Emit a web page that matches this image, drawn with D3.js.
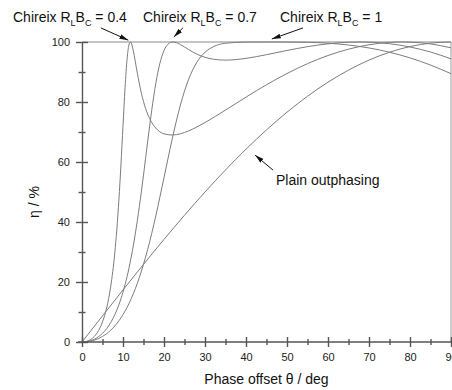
<!DOCTYPE html>
<html>
<head>
<meta charset="utf-8">
<script src="https://cdn.jsdelivr.net/npm/d3@7.9.0/dist/d3.min.js"></script>
<style>
  body { margin: 0; background: #fff; }
  svg { display: block; font-family: Arial, 'Liberation Sans', sans-serif; }
</style>
</head>
<body>
<div id="chart"></div>
<script>
// efficiency curves (phase offset in deg, efficiency in %)
const plainTheta = [0, 5, 10, 15, 20, 25, 30, 35, 40, 45, 50, 55, 60, 65, 70, 75, 80, 85, 90];
const plainEta = [0, 8.72, 17.36, 25.88, 34.2, 42.26, 50, 57.36, 64.28, 70.71, 76.6, 81.92, 86.6, 90.63, 93.97, 96.59, 98.48, 99.62, 100];

const chx04Theta = [0, 1, 2, 3, 4, 5, 6, 7, 8, 8.5, 9, 9.5, 10, 10.5, 11, 11.5, 11.8, 12, 12.5, 13, 13.5, 14, 15, 16, 17, 18, 20, 22, 24, 26, 28, 30, 35, 40, 45, 50, 55, 60, 65, 70, 75, 78, 80, 85, 90];
const chx04Eta = [0, 0.17, 0.74, 1.85, 3.73, 6.7, 11.3, 18.47, 29.74, 37.62, 47.37, 59.07, 72.09, 84.73, 94.42, 99.33, 100, 99.7, 97.21, 93.5, 89.61, 85.99, 80.14, 76.01, 73.19, 71.31, 69.39, 69.0, 69.41, 70.37, 71.66, 73.15, 77.32, 81.63, 85.75, 89.5, 92.78, 95.5, 97.61, 99.07, 99.86, 100, 99.96, 99.36, 98.06];

const chx07Theta = [0, 1, 2, 3, 4, 5, 6, 7, 8, 9, 10, 11, 12, 13, 14, 15, 16, 17, 18, 19, 20, 21, 22, 22.2, 23, 24, 26, 28, 30, 32, 35, 40, 45, 50, 55, 60, 65, 67.8, 70, 75, 80, 85, 90];
const chx07Eta = [0, 0.09, 0.39, 0.92, 1.74, 2.89, 4.44, 6.47, 9.09, 12.42, 16.61, 21.84, 28.28, 36.08, 45.27, 55.65, 66.63, 77.19, 86.22, 92.92, 97.14, 99.29, 99.98, 100, 99.8, 99.16, 97.48, 95.97, 94.9, 94.27, 93.96, 94.54, 95.78, 97.18, 98.44, 99.39, 99.92, 100, 99.95, 99.43, 98.34, 96.66, 94.39];

const chx10Theta = [0, 1, 2, 3, 4, 5, 6, 7, 8, 9, 10, 12, 14, 16, 18, 20, 22, 24, 26, 28, 30, 32, 35, 40, 45, 50, 55, 60, 65, 70, 75, 80, 85, 90];
const chx10Eta = [0, 0.06, 0.26, 0.61, 1.13, 1.84, 2.76, 3.92, 5.34, 7.07, 9.13, 14.42, 21.55, 30.76, 42.04, 54.79, 67.67, 78.99, 87.56, 93.23, 96.59, 98.41, 99.58, 99.98, 100, 99.99, 99.9, 99.6, 99.0, 98.02, 96.59, 94.7, 92.32, 89.44];

const xMajor = [0, 10, 20, 30, 40, 50, 60, 70, 80, 90];
const xMinor = [5, 15, 25, 35, 45, 55, 65, 75, 85];
const yMajor = [0, 20, 40, 60, 80, 100];
const yMinor = [10, 30, 50, 70, 90];

const rlbcValues = ['0.4', '0.7', '1'];

const width = 452;
const height = 390;

const svg = d3.select('#chart')
  .append('svg')
  .attr('width', width)
  .attr('height', height)
  .attr('viewBox', `0 0 ${width} ${height}`);

const x = d3.scaleLinear().domain([0, 90]).range([82, 451]);
const y = d3.scaleLinear().domain([0, 100]).range([342, 42]);

// top line at 100 % and right frame
svg.append('line')
  .attr('x1', x(0)).attr('x2', x(90))
  .attr('y1', y(100)).attr('y2', y(100))
  .attr('stroke', '#c4c4c4')
  .attr('stroke-width', 2);

svg.append('line')
  .attr('x1', x(90)).attr('x2', x(90))
  .attr('y1', y(100)).attr('y2', y(0))
  .attr('stroke', '#9a9a9a')
  .attr('stroke-width', 1);

// curves
const series = [
  { theta: plainTheta, eta: plainEta },
  { theta: chx04Theta, eta: chx04Eta },
  { theta: chx07Theta, eta: chx07Eta },
  { theta: chx10Theta, eta: chx10Eta },
];

const line = d3.line()
  .x((d) => x(d[0]))
  .y((d) => y(d[1]))
  .curve(d3.curveMonotoneX);

svg.append('g')
  .selectAll('path')
  .data(series)
  .join('path')
  .attr('d', (s) => line(s.theta.map((t, i) => [t, s.eta[i]])))
  .attr('fill', 'none')
  .attr('stroke', '#7c7c7c')
  .attr('stroke-width', 1);

// axes
const axisColor = '#555';

const yAxis = svg.append('g')
  .attr('transform', `translate(${x(0)},0)`)
  .call(d3.axisLeft(y).tickValues(yMajor).tickSize(6).tickSizeOuter(0).tickPadding(6));
yAxis.selectAll('.tick line').attr('x1', 6).attr('x2', -6);

const yMinorAxis = svg.append('g')
  .attr('transform', `translate(${x(0)},0)`)
  .call(d3.axisLeft(y).tickValues(yMinor).tickSize(3.5).tickFormat(''));
yMinorAxis.select('.domain').remove();
yMinorAxis.selectAll('.tick line').attr('x1', 3.5).attr('x2', -3.5);

const xAxis = svg.append('g')
  .attr('transform', `translate(0,${y(0)})`)
  .call(d3.axisBottom(x).tickValues(xMajor).tickSize(5).tickSizeOuter(0).tickPadding(6));
xAxis.selectAll('.tick line').attr('y1', -5).attr('y2', 5);
xAxis.select('.domain').attr('d', `M${x(0) - 4},0H${x(90)}`);

const xMinorAxis = svg.append('g')
  .attr('transform', `translate(0,${y(0)})`)
  .call(d3.axisBottom(x).tickValues(xMinor).tickSize(3).tickFormat(''));
xMinorAxis.select('.domain').remove();
xMinorAxis.selectAll('.tick line').attr('y1', -3).attr('y2', 3);

svg.selectAll('.domain, .tick line')
  .attr('stroke', axisColor)
  .attr('stroke-width', 1.4);

svg.selectAll('.tick text')
  .attr('fill', '#222')
  .style('font-size', '11px')
  .style('font-family', "Arial, 'Liberation Sans', sans-serif");

// axis titles
svg.append('text')
  .attr('x', (x(0) + x(90)) / 2)
  .attr('y', 384)
  .attr('text-anchor', 'middle')
  .style('font-size', '14px')
  .attr('fill', '#111')
  .text('Phase offset θ / deg');

svg.append('text')
  .attr('transform', `translate(39,${(y(0) + y(100)) / 2 + 10}) rotate(-90)`)
  .attr('text-anchor', 'middle')
  .style('font-size', '14px')
  .attr('fill', '#111')
  .text('η / %');

// annotations
svg.append('defs')
  .append('marker')
  .attr('id', 'arrow')
  .attr('markerUnits', 'userSpaceOnUse')
  .attr('markerWidth', 9)
  .attr('markerHeight', 6)
  .attr('refX', 9)
  .attr('refY', 3)
  .attr('orient', 'auto')
  .append('path')
  .attr('d', 'M0,0.6L9,3L0,5.4Z')
  .attr('fill', '#111');

const arrows = [
  { from: [4.6, 104.7], to: [11.3, 100.6] },
  { from: [24.6, 104.7], to: [22.4, 101.7] },
  { from: [53.9, 104.7], to: [46.3, 101.0] },
  { from: [46.6, 57.3], to: [42.2, 62.3] },
];

svg.append('g')
  .selectAll('line')
  .data(arrows)
  .join('line')
  .attr('x1', (d) => x(d.from[0]))
  .attr('y1', (d) => y(d.from[1]))
  .attr('x2', (d) => x(d.to[0]))
  .attr('y2', (d) => y(d.to[1]))
  .attr('stroke', '#111')
  .attr('stroke-width', 1)
  .attr('marker-end', 'url(#arrow)');

const labelX = [13, 143, 280];

rlbcValues.forEach((v, i) => {
  const t = svg.append('text')
    .attr('x', labelX[i])
    .attr('y', 22)
    .style('font-size', '14px')
    .attr('fill', '#111');
  t.append('tspan').text('Chireix R');
  t.append('tspan').attr('dy', 4).style('font-size', '9px').text('L');
  t.append('tspan').attr('dy', -4).text('B');
  t.append('tspan').attr('dy', 4).style('font-size', '9px').text('C');
  t.append('tspan').attr('dy', -4).text(' = ' + v);
});

svg.append('text')
  .attr('x', 276)
  .attr('y', 185)
  .style('font-size', '14px')
  .attr('fill', '#111')
  .text('Plain outphasing');
</script>
</body>
</html>
